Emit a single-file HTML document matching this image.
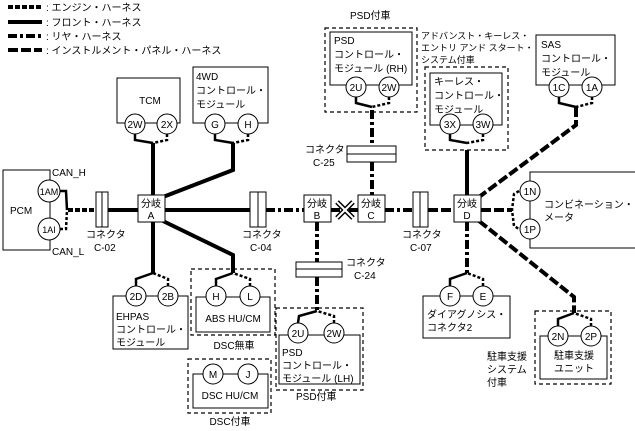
<!DOCTYPE html>
<html><head><meta charset="utf-8"><style>
body{margin:0;background:#fff}
svg{display:block}
text{font-family:"Liberation Sans","Noto Sans CJK JP",sans-serif;font-size:10px;fill:#000}
.b{fill:#fff;stroke:#000;stroke-width:1}
.d{fill:none;stroke:#000;stroke-width:1.2;stroke-dasharray:4,3}
.c{fill:#fff;stroke:#000;stroke-width:1}
.fr{stroke:#000;stroke-width:4;fill:none}
.en{stroke:#000;stroke-width:4;fill:none;stroke-dasharray:5,2}
.re{stroke:#000;stroke-width:4;fill:none;stroke-dasharray:9,3,3,3}
.ip{stroke:#000;stroke-width:4;fill:none;stroke-dasharray:10,3}
.fs{stroke:#000;stroke-width:2.5;fill:none}
.fd{stroke:#000;stroke-width:2.5;fill:none;stroke-dasharray:3,2}
.m{text-anchor:middle}
.s{font-size:9px}
</style></head><body>
<svg width="635" height="431" viewBox="0 0 635 431">
<line class="en" x1="8" y1="7" x2="42" y2="7"/><text x="46" y="11">: エンジン・ハーネス</text>
<line class="fr" x1="8" y1="22" x2="42" y2="22"/><text x="46" y="26">: フロント・ハーネス</text>
<line class="re" x1="8" y1="36" x2="42" y2="36"/><text x="46" y="40">: リヤ・ハーネス</text>
<line class="ip" x1="8" y1="50" x2="42" y2="50"/><text x="46" y="54">: インストルメント・パネル・ハーネス</text>

<line class="en" x1="68" y1="210" x2="96" y2="210"/>
<line class="fr" x1="108" y1="210" x2="250" y2="210"/>
<line class="re" x1="266" y1="210" x2="304" y2="210"/>
<line class="re" x1="331" y1="210" x2="413" y2="210"/>
<line class="ip" x1="428" y1="210" x2="454" y2="210"/>
<line class="ip" x1="481" y1="210" x2="512" y2="210"/>

<line class="fr" x1="153" y1="143" x2="153" y2="195"/>
<polyline class="fr" points="233,143 233,170 163,197"/>
<line class="fr" x1="153" y1="222" x2="153" y2="273"/>
<polyline class="fr" points="163,221 233,255 233,273"/>
<line class="re" x1="372" y1="110" x2="372" y2="146"/>
<line class="re" x1="372" y1="162" x2="372" y2="195"/>
<line class="re" x1="317" y1="222" x2="317" y2="262"/>
<line class="re" x1="317" y1="277" x2="317" y2="311"/>
<line class="fr" x1="467" y1="150" x2="467" y2="195"/>
<polyline class="ip" points="576,107 576,125 479,197"/>
<line class="re" x1="467" y1="222" x2="467" y2="273"/>
<polyline class="ip" points="479,221 574,297 574,313"/>

<rect class="b" x="3" y="170" width="47" height="80"/>
<text x="10" y="214">PCM</text>
<text x="52" y="176">CAN_H</text><text x="52" y="255">CAN_L</text>
<polyline class="fs" points="60,191 66,191 67,210"/>
<polyline class="fd" points="60,229 66,229 67,210"/>
<circle class="c" cx="49" cy="191" r="11"/><text class="m" x="49" y="195" style="font-size:9px">1AM</text>
<circle class="c" cx="49" cy="229" r="11"/><text class="m" x="49" y="233" style="font-size:9px">1AI</text>

<g><rect class="b" x="96" y="192" width="12" height="35"/><line x1="102" y1="192" x2="102" y2="227" stroke="#000"/></g>
<text x="86" y="238">コネクタ</text><text x="94" y="251">C-02</text>
<g><rect class="b" x="250" y="192" width="16" height="35"/><line x1="258" y1="192" x2="258" y2="227" stroke="#000"/></g>
<text x="242" y="238">コネクタ</text><text x="250" y="251">C-04</text>
<g><rect class="b" x="413" y="192" width="15" height="35"/><line x1="420" y1="192" x2="420" y2="227" stroke="#000"/></g>
<text x="402" y="238">コネクタ</text><text x="410" y="251">C-07</text>
<g><rect class="b" x="347" y="146" width="49" height="16"/><line x1="347" y1="154" x2="396" y2="154" stroke="#000"/></g>
<text x="305" y="153">コネクタ</text><text x="313" y="166">C-25</text>
<g><rect class="b" x="296" y="262" width="46" height="15"/><line x1="296" y1="269" x2="342" y2="269" stroke="#000"/></g>
<text x="346" y="266">コネクタ</text><text x="354" y="279">C-24</text>

<g stroke="#000" stroke-width="5"><line x1="337" y1="202" x2="353" y2="218"/><line x1="353" y1="202" x2="337" y2="218"/></g>
<g stroke="#fff" stroke-width="2"><line x1="337" y1="202" x2="353" y2="218"/><line x1="353" y1="202" x2="337" y2="218"/></g>

<rect class="b" x="138" y="195" width="27" height="27"/><text class="m" x="151" y="207">分岐</text><text class="m" x="151" y="219">A</text>
<rect class="b" x="304" y="195" width="27" height="27"/><text class="m" x="317" y="207">分岐</text><text class="m" x="317" y="219">B</text>
<rect class="b" x="358" y="195" width="27" height="27"/><text class="m" x="371" y="207">分岐</text><text class="m" x="371" y="219">C</text>
<rect class="b" x="454" y="195" width="27" height="27"/><text class="m" x="467" y="207">分岐</text><text class="m" x="467" y="219">D</text>

<rect class="b" x="117" y="78" width="63" height="45"/><text class="m" x="150" y="104">TCM</text>
<polyline class="fs" points="135,134 135,140 153,143"/><polyline class="fd" points="167,134 167,140 153,143"/>
<circle class="c" cx="135" cy="124" r="10"/><text class="m" x="135" y="128">2W</text>
<circle class="c" cx="167" cy="124" r="10"/><text class="m" x="167" y="128">2X</text>
<rect class="b" x="193" y="67" width="75" height="56"/><text x="196" y="80">4WD</text><text x="196" y="94">コントロール・</text><text x="196" y="108">モジュール</text>
<polyline class="fs" points="215,134 215,140 233,143"/><polyline class="fd" points="248,134 248,140 233,143"/>
<circle class="c" cx="215" cy="124" r="10"/><text class="m" x="215" y="128">G</text>
<circle class="c" cx="248" cy="124" r="10"/><text class="m" x="248" y="128">H</text>

<text x="350" y="19">PSD付車</text>
<rect class="d" x="325" y="28" width="92" height="84"/>
<rect class="b" x="330" y="32" width="82" height="53"/>
<text x="334" y="44">PSD</text><text x="334" y="58">コントロール・</text><text x="334" y="72">モジュール (RH)</text>
<polyline class="fs" points="356,97 356,103 372,107"/><polyline class="fd" points="389,97 389,103 372,107"/>
<circle class="c" cx="356" cy="87" r="10"/><text class="m" x="356" y="91">2U</text>
<circle class="c" cx="389" cy="87" r="10"/><text class="m" x="389" y="91">2W</text>

<text class="s" x="421" y="39">アドバンスト・キーレス・</text><text class="s" x="421" y="51">エントリ アンド スタート・</text><text class="s" x="421" y="63">システム付車</text>
<rect class="d" x="425" y="67" width="83" height="83"/>
<rect class="b" x="430" y="73" width="72" height="52"/>
<text x="434" y="85">キーレス・</text><text x="434" y="99">コントロール・</text><text x="434" y="113">モジュール</text>
<polyline class="fs" points="450,134 450,140 467,143"/><polyline class="fd" points="483,134 483,140 467,143"/>
<circle class="c" cx="450" cy="124" r="10"/><text class="m" x="450" y="128">3X</text>
<circle class="c" cx="483" cy="124" r="10"/><text class="m" x="483" y="128">3W</text>

<rect class="b" x="536" y="35" width="79" height="50"/>
<text x="541" y="48">SAS</text><text x="541" y="62">コントロール・</text><text x="541" y="76">モジュール</text>
<polyline class="fs" points="559,97 559,103 576,107"/><polyline class="fd" points="592,97 592,103 576,107"/>
<circle class="c" cx="559" cy="87" r="10"/><text class="m" x="559" y="91">1C</text>
<circle class="c" cx="592" cy="87" r="10"/><text class="m" x="592" y="91">1A</text>

<rect class="b" x="530" y="172" width="106" height="76"/>
<text x="544" y="208">コンビネーション・</text><text x="544" y="221">メータ</text>
<polyline class="fd" points="519,191 514,194 512,210 514,226 519,229"/>
<circle class="c" cx="530" cy="191" r="10"/><text class="m" x="530" y="195">1N</text>
<circle class="c" cx="530" cy="229" r="10"/><text class="m" x="530" y="233">1P</text>

<rect class="b" x="113" y="296" width="75" height="53"/>
<text x="116" y="320">EHPAS</text><text x="116" y="333">コントロール・</text><text x="116" y="346">モジュール</text>
<polyline class="fs" points="136,286 136,279 153,273"/><polyline class="fd" points="168,286 168,279 153,273"/>
<circle class="c" cx="136" cy="296" r="10"/><text class="m" x="136" y="300">2D</text>
<circle class="c" cx="168" cy="296" r="10"/><text class="m" x="168" y="300">2B</text>

<rect class="d" x="191" y="269" width="84" height="66"/>
<rect class="b" x="196" y="297" width="74" height="35"/>
<text class="m" x="233" y="322">ABS HU/CM</text>
<polyline class="fs" points="216,286 216,279 233,273"/><polyline class="fd" points="250,286 250,279 233,273"/>
<circle class="c" cx="216" cy="296" r="10"/><text class="m" x="216" y="300">H</text>
<circle class="c" cx="250" cy="296" r="10"/><text class="m" x="250" y="300">L</text>
<text class="m" x="234" y="349">DSC無車</text>

<rect class="d" x="188" y="359" width="83" height="54"/>
<rect class="b" x="193" y="374" width="75" height="34"/>
<text class="m" x="230" y="399">DSC HU/CM</text>
<circle class="c" cx="213" cy="374" r="10"/><text class="m" x="213" y="378">M</text>
<circle class="c" cx="248" cy="374" r="10"/><text class="m" x="248" y="378">J</text>
<text class="m" x="230" y="425">DSC付車</text>

<rect class="d" x="276" y="308" width="87" height="82"/>
<rect class="b" x="279" y="335" width="81" height="49"/>
<text x="282" y="356">PSD</text><text x="282" y="369">コントロール・</text><text x="282" y="382">モジュール (LH)</text>
<polyline class="fs" points="298,323 299,316 317,311"/><polyline class="fd" points="334,323 334,316 317,311"/>
<circle class="c" cx="298" cy="333" r="10"/><text class="m" x="298" y="337">2U</text>
<circle class="c" cx="334" cy="333" r="10"/><text class="m" x="334" y="337">2W</text>
<text x="296" y="400">PSD付車</text>

<rect class="b" x="423" y="296" width="87" height="42"/>
<text x="427" y="318">ダイアグノシス・</text><text x="427" y="331">コネクタ2</text>
<polyline class="fs" points="450,286 450,279 467,273"/><polyline class="fd" points="483,286 483,279 467,273"/>
<circle class="c" cx="450" cy="296" r="10"/><text class="m" x="450" y="300">F</text>
<circle class="c" cx="483" cy="296" r="10"/><text class="m" x="483" y="300">E</text>

<text x="487" y="360">駐車支援</text><text x="487" y="373">システム</text><text x="487" y="386">付車</text>
<rect class="d" x="535" y="311" width="76" height="73"/>
<rect class="b" x="540" y="336" width="67" height="43"/>
<text class="m" x="574" y="359">駐車支援</text><text class="m" x="574" y="372">ユニット</text>
<polyline class="fs" points="558,326 558,319 574,313"/><polyline class="fd" points="591,326 591,319 574,313"/>
<circle class="c" cx="558" cy="336" r="10"/><text class="m" x="558" y="340">2N</text>
<circle class="c" cx="591" cy="336" r="10"/><text class="m" x="591" y="340">2P</text>
</svg>
</body></html>
